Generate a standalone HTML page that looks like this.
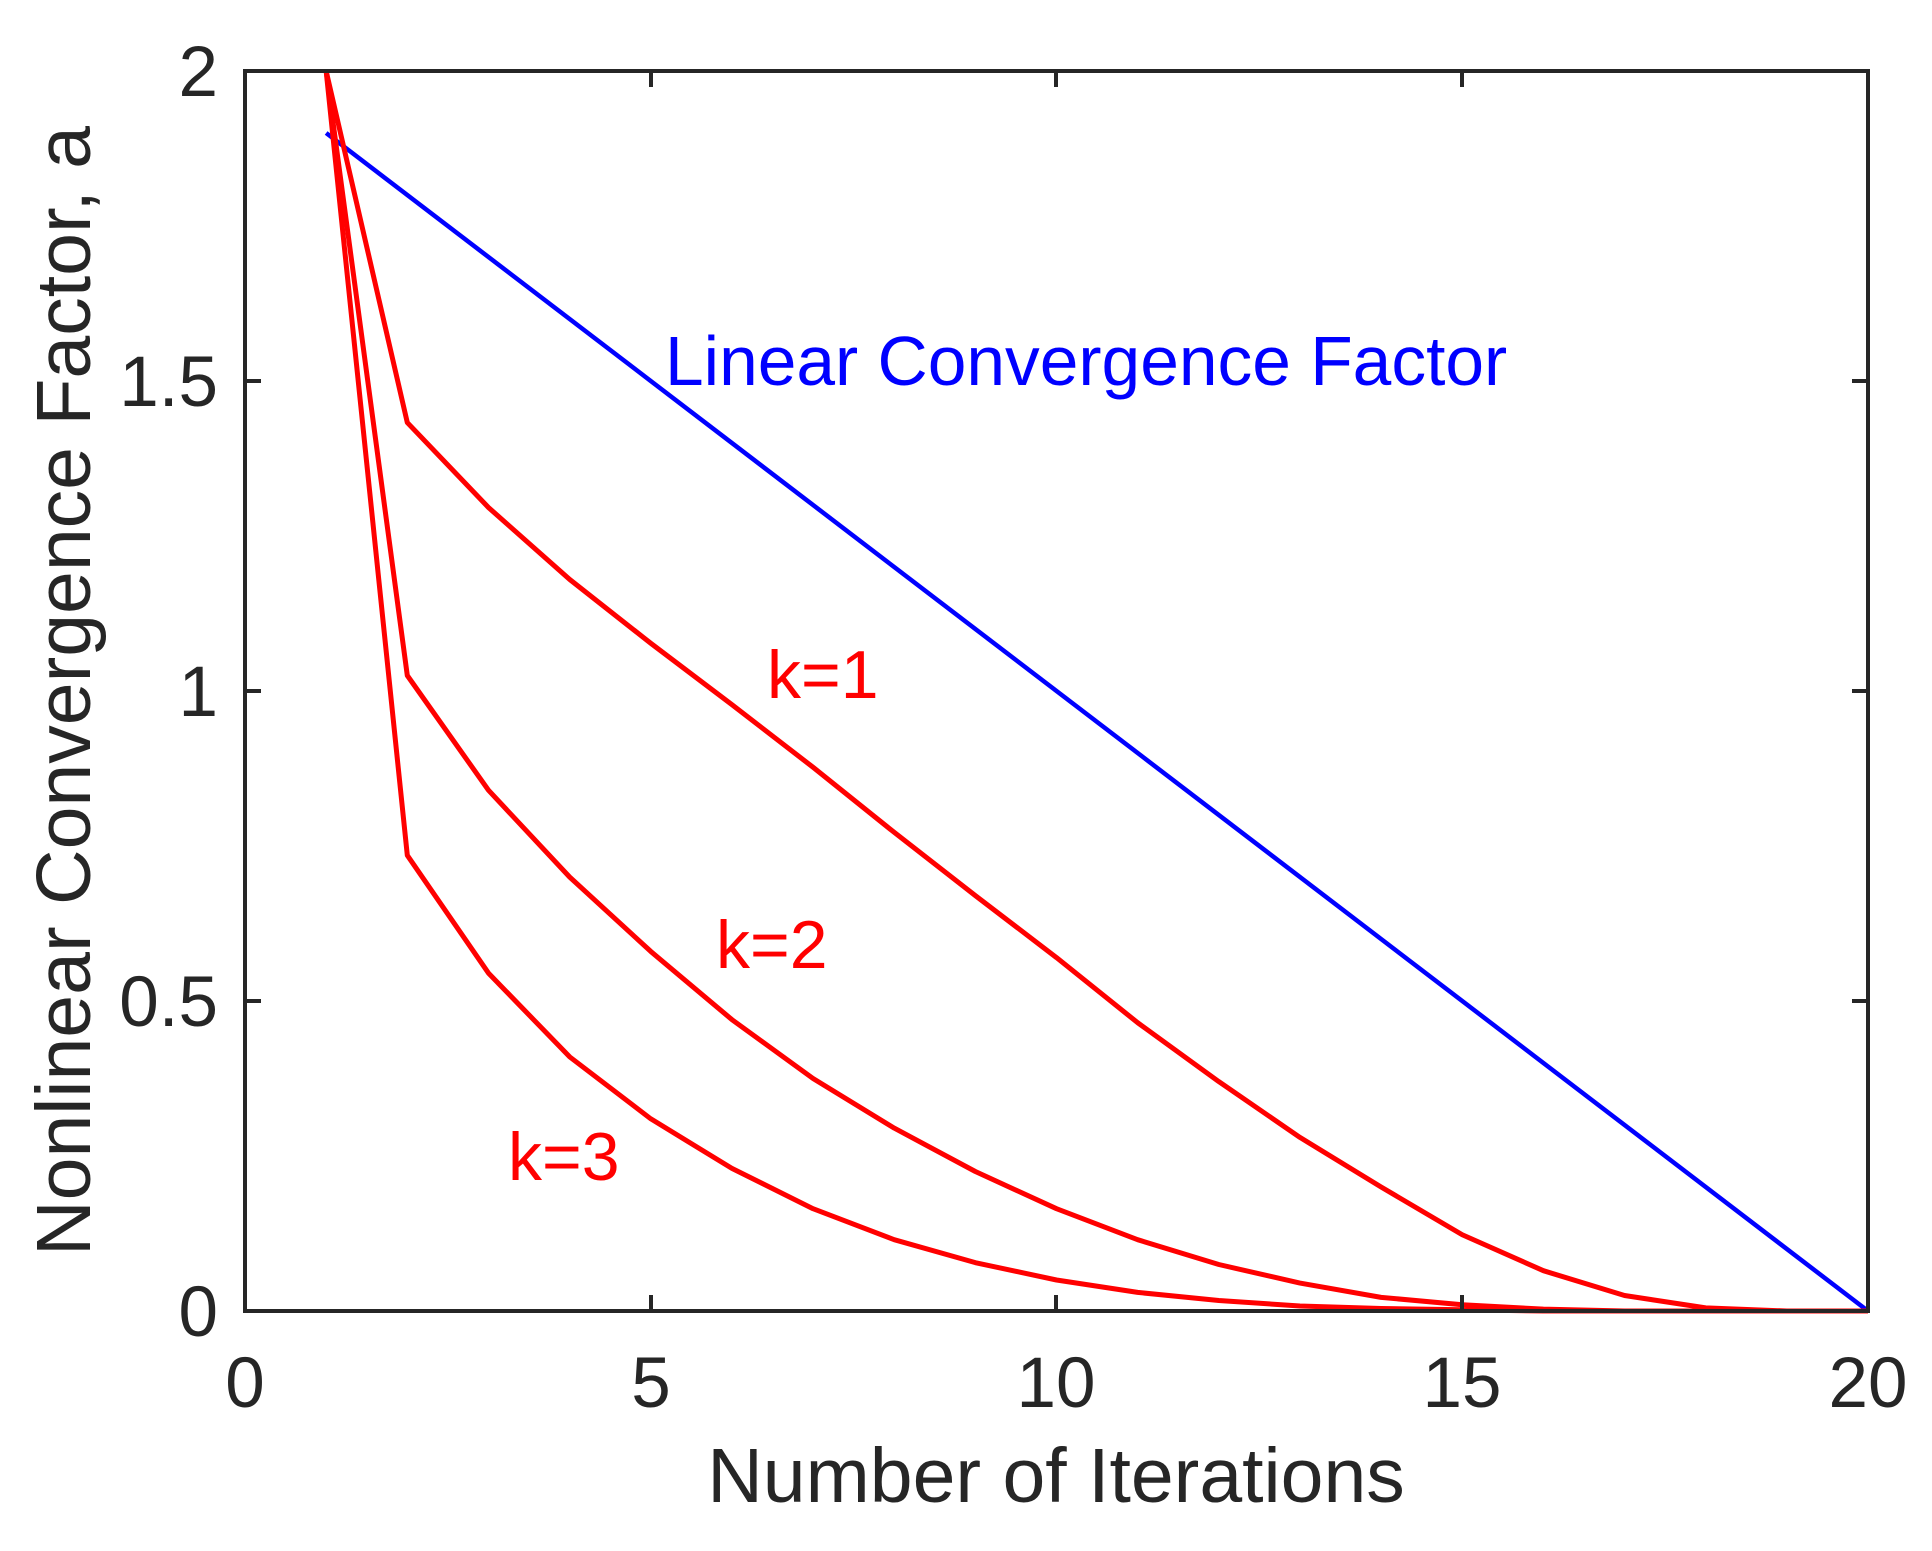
<!DOCTYPE html>
<html><head><meta charset="utf-8"><style>
html,body{margin:0;padding:0;background:#fff}
svg{display:block}
text{font-family:"Liberation Sans",Arial,sans-serif}
</style></head><body>
<svg width="1932" height="1551" viewBox="0 0 1932 1551" xmlns="http://www.w3.org/2000/svg">
<rect width="1932" height="1551" fill="#fff"/>
<g transform="translate(245,1311) scale(81.15,-620)" fill="none" stroke-linejoin="round">
<polyline vector-effect="non-scaling-stroke" stroke="#0000ff" stroke-width="4.5" points="1,1.9 20,0"/>
<polyline vector-effect="non-scaling-stroke" stroke="#ff0000" stroke-width="5" points="1,2 2,1.433 3,1.296 4,1.18 5,1.077 6,0.978 7,0.877 8,0.772 9,0.67 10,0.57 11,0.465 12,0.37 13,0.28 14,0.2 15,0.123 16,0.065 17,0.025 18,0.005 19,0 20,0"/>
<polyline vector-effect="non-scaling-stroke" stroke="#ff0000" stroke-width="5" points="1,2 2,1.025 3,0.84 4,0.70 5,0.58 6,0.47 7,0.375 8,0.295 9,0.225 10,0.165 11,0.115 12,0.075 13,0.045 14,0.022 15,0.01 16,0.003 17,0 20,0"/>
<polyline vector-effect="non-scaling-stroke" stroke="#ff0000" stroke-width="5" points="1,2 2,0.735 3,0.545 4,0.41 5,0.31 6,0.23 7,0.165 8,0.115 9,0.078 10,0.05 11,0.03 12,0.017 13,0.008 14,0.004 15,0.002 16,0 20,0"/>
</g>
<g stroke="#262626" stroke-width="4" fill="none">
<rect x="245" y="71" width="1623" height="1240"/>
<path d="M245,381h16M245,691h16M245,1001h16M1868,381h-16M1868,691h-16M1868,1001h-16
M651,1311v-16M1056,1311v-16M1462,1311v-16M651,71v16M1056,71v16M1462,71v16"/>
</g>
<g fill="#262626" font-size="71">
<text x="218" y="96" text-anchor="end">2</text>
<text x="218" y="406" text-anchor="end">1.5</text>
<text x="218" y="716" text-anchor="end">1</text>
<text x="218" y="1026" text-anchor="end">0.5</text>
<text x="218" y="1336" text-anchor="end">0</text>
<text x="245" y="1407" text-anchor="middle">0</text>
<text x="651" y="1407" text-anchor="middle">5</text>
<text x="1056" y="1407" text-anchor="middle">10</text>
<text x="1462" y="1407" text-anchor="middle">15</text>
<text x="1868" y="1407" text-anchor="middle">20</text>
<text x="1056" y="1502" text-anchor="middle" font-size="77">Number of Iterations</text>
<text transform="translate(90,691) rotate(-90)" text-anchor="middle" font-size="77">Nonlinear Convergence Factor, a</text>
</g>
<text x="665" y="385" fill="#0000ff" font-size="69.5">Linear Convergence Factor</text>
<g fill="#ff0000" font-size="68">
<text x="767" y="698">k=1</text>
<text x="716" y="968">k=2</text>
<text x="508" y="1180">k=3</text>
</g>
</svg>
</body></html>
